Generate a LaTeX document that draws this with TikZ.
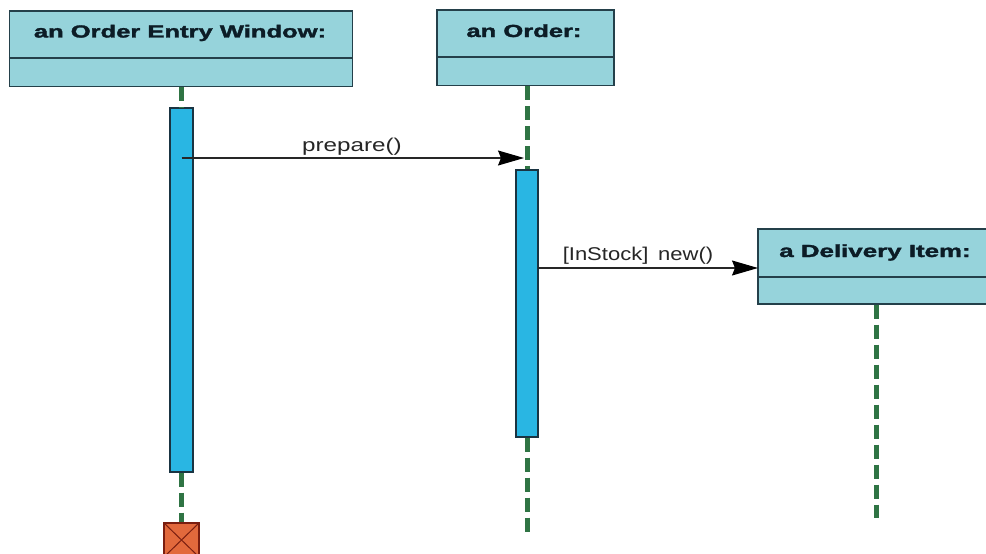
\documentclass[tikz,border=0pt]{standalone}
\usepackage{fontspec}
\setmainfont{Liberation Sans}
\newfontfamily\headfont{Liberation Sans Bold}[FakeBold=1.6]
\usetikzlibrary{arrows.meta}

\definecolor{objfill}{HTML}{96D3DB}
\definecolor{objline}{HTML}{24404A}
\definecolor{objtext}{HTML}{0C1C26}
\definecolor{actfill}{HTML}{29B6E3}
\definecolor{actline}{HTML}{1A3442}
\definecolor{lifecol}{HTML}{2F7444}
\definecolor{killfill}{HTML}{E2693C}
\definecolor{killline}{HTML}{7A1E10}

\tikzset{
  objbox/.style={draw=objline, line width=1.4pt, fill=objfill, rectangle, inner sep=0pt},
  objtitle/.style={anchor=base, inner sep=0pt, text=objtext, font=\headfont\fontsize{17.5}{20}\selectfont},
  actbar/.style={draw=actline, line width=1.3pt, fill=actfill, rectangle, inner sep=0pt},
  life/.style={draw=lifecol, line width=5pt, dash pattern=on 14pt off 6pt},
  msg/.style={draw=black!85, line width=1.1pt, -{Stealth[length=26pt, width=15pt, inset=3pt, color=black]}},
  msglabel/.style={anchor=base, inner sep=0pt, text=black!85, font=\fontsize{18.5}{21}\selectfont},
  killbox/.style={draw=killline, line width=1.2pt, fill=killfill, rectangle, inner sep=0pt}
}

\begin{document}
\begin{tikzpicture}[x=1pt, y=-1pt]
  \useasboundingbox (0,0) rectangle (986,554);
  \fill[white] (0,0) rectangle (986,554);
  \clip (0,0) rectangle (986,554);

  % object boxes
  \node[objbox, minimum width=343pt, minimum height=75.5pt] (ow) at (181,48.75) {};
  \node[objbox, minimum width=177pt, minimum height=75.5pt] (ord) at (525.5,47.75) {};
  \node[objbox, minimum width=236pt, minimum height=75pt] (di) at (876,266.5) {};

  % compartment dividers
  \draw[objline, line width=1.2pt] (ow.west |- 0,58) -- (ow.east |- 0,58);
  \draw[objline, line width=1.2pt] (ord.west |- 0,57) -- (ord.east |- 0,57);
  \draw[objline, line width=1.2pt] (di.west |- 0,277) -- (di.east |- 0,277);

  % object names
  \node[objtitle] (owt) at (180,37.5) {\scalebox{1.46}[1]{an Order Entry Window:}};
  \node[objtitle] (ordt) at (524,37) {\scalebox{1.46}[1]{an Order:}};
  \node[objtitle] (dit) at (875,257) {\scalebox{1.48}[1]{a Delivery Item:}};

  % activation bars
  \node[actbar, minimum width=23pt, minimum height=364pt] (act1) at (181.5,290) {};
  \node[actbar, minimum width=22pt, minimum height=267pt] (act2) at (527,303.5) {};

  % destruction mark
  \node[killbox, minimum width=35pt, minimum height=34pt] (kill) at (181.5,540) {};
  \draw[killline, line width=1pt] (kill.north west) -- (kill.south east);
  \draw[killline, line width=1pt] (kill.north east) -- (kill.south west);

  % lifelines
  \draw[life] (ow.south -| act1) -- (act1.north);
  \draw[life] (act1.south) -- (kill.north);
  \draw[life] (ord.south -| act2) -- (act2.north);
  \coordinate (ordend) at (527,535);
  \draw[life] (act2.south) -- (ordend);
  \coordinate (diend) at (876,518);
  \draw[life] (di.south) -- (diend);

  % messages
  \coordinate (prepS) at (181.5,158);
  \coordinate (prepE) at (524,158);
  \draw[msg] (prepS) -- (prepE);
  \node[msglabel] (prepL) at (352,151) {\scalebox{1.31}[1]{prepare()}};

  \coordinate (newS) at (538,268);
  \coordinate (newE) at (758,268);
  \draw[msg] (newS) -- (newE);
  \node[msglabel] (newL) at (638,260) {\scalebox{1.19}[1]{[InStock]\, new()}};
\end{tikzpicture}
\end{document}
